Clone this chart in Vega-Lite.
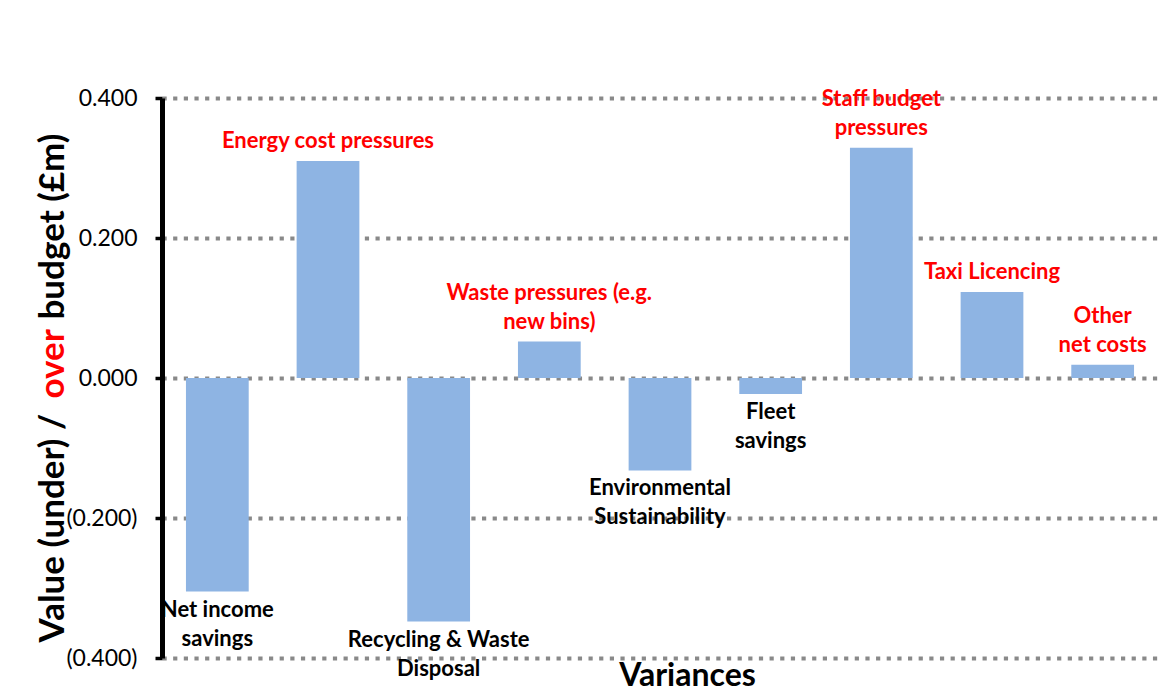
{
  "$schema": "https://vega.github.io/schema/vega-lite/v6.json",
  "width": 996,
  "height": 560,
  "autosize": {"type": "none"},
  "padding": {"left": 162, "top": 98, "right": 6, "bottom": 37},
  "background": "white",
  "config": {"view": {"stroke": null}, "font": "Lato"},
  "data": {
    "values": [
      {"variance": "Net income savings", "label": "Net income\nsavings", "value": -0.305},
      {"variance": "Energy cost pressures", "label": "Energy cost pressures", "value": 0.310},
      {"variance": "Recycling & Waste Disposal", "label": "Recycling & Waste\nDisposal", "value": -0.348},
      {"variance": "Waste pressures (e.g. new bins)", "label": "Waste pressures (e.g.\nnew bins)", "value": 0.052},
      {"variance": "Environmental Sustainability", "label": "Environmental\nSustainability", "value": -0.132},
      {"variance": "Fleet savings", "label": "Fleet\nsavings", "value": -0.023},
      {"variance": "Staff budget pressures", "label": "Staff budget\npressures", "value": 0.329},
      {"variance": "Taxi Licencing", "label": "Taxi Licencing", "value": 0.123},
      {"variance": "Other net costs", "label": "Other\nnet costs", "value": 0.019}
    ]
  },
  "encoding": {
    "x": {
      "field": "variance",
      "type": "nominal",
      "sort": null,
      "scale": {"paddingInner": 0.433, "paddingOuter": 0.2165},
      "axis": {
        "labels": false,
        "ticks": false,
        "domain": false,
        "grid": false,
        "title": "Variances",
        "titleFont": "Lato",
        "titleFontSize": 32,
        "titleFontWeight": "bold",
        "titleColor": "black",
        "titleX": 525,
        "titleY": 27,
        "titleAlign": "center",
        "titleBaseline": "alphabetic"
      }
    }
  },
  "layer": [
    {
      "mark": {"type": "bar", "color": "#8EB4E3"},
      "encoding": {
        "y": {
          "field": "value",
          "type": "quantitative",
          "scale": {"domain": [-0.4, 0.4], "nice": false},
          "axis": {
            "orient": "left",
            "values": [-0.4, -0.2, 0, 0.2, 0.4],
            "labelExpr": "datum.value < 0 ? '(' + format(-datum.value, '.3f') + ')' : format(datum.value, '.3f')",
            "labelFont": "Lato",
            "labelFontSize": 23,
            "labelColor": "black",
            "labelPadding": 18,
            "tickSize": 7,
            "tickWidth": 3.5,
            "tickColor": "black",
            "domainColor": "black",
            "domainWidth": 5,
            "grid": true,
            "gridColor": "#898989",
            "gridWidth": 4,
            "gridDash": [4.2, 6.45],
            "title": "Value (under) /",
            "titleFont": "Lato",
            "titleFontSize": 35,
            "titleFontWeight": "bold",
            "titleColor": "black",
            "titleAngle": -90,
            "titleX": -99,
            "titleY": 544,
            "titleAlign": "left",
            "titleBaseline": "alphabetic"
          }
        }
      }
    },
    {
      "transform": [{"filter": "datum.value > 0 && indexof(datum.label, '\\n') < 0"}],
      "mark": {
        "type": "text",
        "baseline": "bottom",
        "dy": -8,
        "font": "Lato",
        "fontSize": 22,
        "fontWeight": "bold",
        "lineBreak": "\n",
        "lineHeight": 29,
        "fill": "#FF0000"
      },
      "encoding": {
        "y": {
          "field": "value",
          "type": "quantitative",
          "axis": {
            "orient": "left",
            "labels": false,
            "ticks": false,
            "domain": false,
            "grid": false,
            "title": "over",
            "titleFont": "Lato",
            "titleFontSize": 35,
            "titleFontWeight": "bold",
            "titleColor": "#FF0000",
            "titleAngle": -90,
            "titleX": -99,
            "titleY": 300,
            "titleAlign": "left",
            "titleBaseline": "alphabetic"
          }
        },
        "text": {"field": "label"}
      }
    },
    {
      "transform": [{"filter": "datum.value > 0 && indexof(datum.label, '\\n') >= 0"}],
      "mark": {
        "type": "text",
        "baseline": "bottom",
        "dy": -37,
        "font": "Lato",
        "fontSize": 22,
        "fontWeight": "bold",
        "lineBreak": "\n",
        "lineHeight": 29,
        "fill": "#FF0000"
      },
      "encoding": {
        "y": {"field": "value", "type": "quantitative", "axis": null},
        "text": {"field": "label"}
      }
    },
    {
      "transform": [{"filter": "datum.value < 0"}],
      "mark": {
        "type": "text",
        "baseline": "top",
        "dy": 8,
        "font": "Lato",
        "fontSize": 22,
        "fontWeight": "bold",
        "lineBreak": "\n",
        "lineHeight": 29,
        "fill": "black"
      },
      "encoding": {
        "y": {
          "field": "value",
          "type": "quantitative",
          "axis": {
            "orient": "left",
            "labels": false,
            "ticks": false,
            "domain": false,
            "grid": false,
            "title": "budget (£m)",
            "titleFont": "Lato",
            "titleFontSize": 35,
            "titleFontWeight": "bold",
            "titleColor": "black",
            "titleAngle": -90,
            "titleX": -99,
            "titleY": 221,
            "titleAlign": "left",
            "titleBaseline": "alphabetic"
          }
        },
        "text": {"field": "label"}
      }
    }
  ],
  "resolve": {"axis": {"y": "independent"}}
}
